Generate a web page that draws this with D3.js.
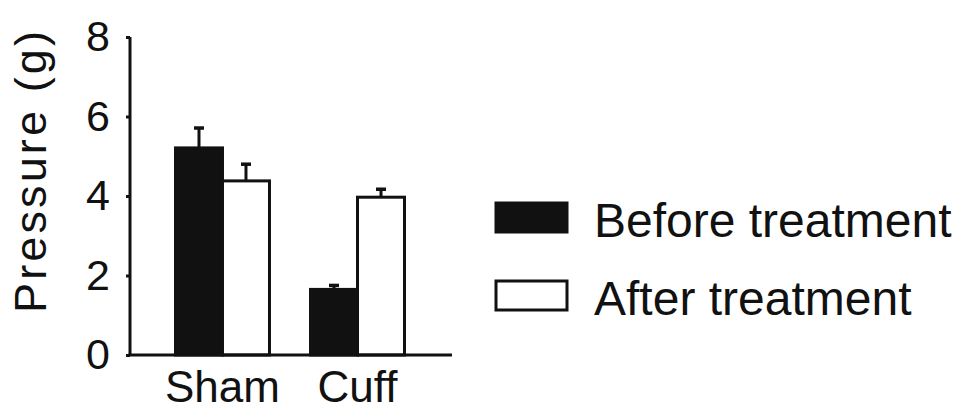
<!DOCTYPE html>
<html>
<head>
<meta charset="utf-8">
<script src="https://cdn.jsdelivr.net/npm/d3@7"></script>
<style>
  html, body { margin: 0; padding: 0; background: #fff; }
  svg { display: block; }
  text { font-family: "Liberation Sans", Arial, sans-serif; fill: #111; }
</style>
</head>
<body>
<svg id="chart" width="963" height="414"></svg>
<script>
const categories = ["Sham", "Cuff"];
const seriesNames = ["Before treatment", "After treatment"];
const beforeValues = [5.21, 1.65];
const beforeErrors = [0.5, 0.1];
const afterValues = [4.38, 3.97];
const afterErrors = [0.42, 0.2];
const yTicks = [0, 2, 4, 6, 8];
const yLabel = "Pressure (g)";

const seriesFill = ["#111", "#fff"];
const svg = d3.select("#chart");

const x0 = d3.scaleBand().domain(categories).range([130, 450])
  .paddingInner(0.304).paddingOuter(0.337);
const x1 = d3.scaleBand().domain(seriesNames).range([0, x0.bandwidth()]).padding(0);
const y = d3.scaleLinear().domain([0, 8]).range([355, 37]);

const rows = categories.map((c, i) => ({
  cat: c,
  vals: [
    { s: seriesNames[0], v: beforeValues[i], e: beforeErrors[i], fill: seriesFill[0] },
    { s: seriesNames[1], v: afterValues[i], e: afterErrors[i], fill: seriesFill[1] }
  ]
}));

const g = svg.append("g");
rows.forEach(r => {
  r.vals.forEach(d => {
    const cx = x0(r.cat) + x1(d.s) + x1.bandwidth() / 2;
    g.append("line").attr("x1", cx).attr("x2", cx)
      .attr("y1", y(d.v)).attr("y2", y(d.v + d.e))
      .attr("stroke", "#111").attr("stroke-width", 3);
    g.append("line").attr("x1", cx - 5).attr("x2", cx + 5)
      .attr("y1", y(d.v + d.e)).attr("y2", y(d.v + d.e))
      .attr("stroke", "#111").attr("stroke-width", 3.5);
  });
});

rows.forEach(r => {
  g.selectAll(null).data(r.vals).enter().append("rect")
    .attr("x", d => x0(r.cat) + x1(d.s))
    .attr("width", x1.bandwidth())
    .attr("y", d => y(d.v))
    .attr("height", d => y(0) - y(d.v))
    .attr("fill", d => d.fill)
    .attr("stroke", "#111").attr("stroke-width", 3);
});

// y axis
const yAxis = svg.append("g").attr("transform", "translate(130,0)")
  .call(d3.axisLeft(y).tickValues(yTicks).tickSize(4).tickPadding(16).tickFormat(d3.format("d")));
yAxis.select(".domain").attr("stroke", "#111").attr("stroke-width", 3).attr("d", `M0,${y(8)}V${y(0)}`);
yAxis.selectAll(".tick line").attr("stroke", "#111").attr("stroke-width", 3);
yAxis.selectAll(".tick text").style("font-size", "43px").style("font-family", "Liberation Sans, Arial, sans-serif").attr("fill", "#111");

// x axis
const xAxis = svg.append("g").attr("transform", "translate(0,355)")
  .call(d3.axisBottom(x0).tickSize(0).tickPadding(16));
xAxis.select(".domain").attr("stroke", "#111").attr("stroke-width", 3).attr("d", "M128.5,0H452");
xAxis.selectAll(".tick text").style("font-size", "44px").style("font-family", "Liberation Sans, Arial, sans-serif").attr("fill", "#111").attr("dy", "0.71em");

// y label
svg.append("text")
  .attr("transform", "translate(46,172) rotate(-90)")
  .attr("text-anchor", "middle")
  .attr("textLength", 282).attr("lengthAdjust", "spacing")
  .style("font-size", "45px")
  .text(yLabel);

// legend
const legend = svg.append("g");
seriesNames.forEach((s, i) => {
  const ly = 203 + i * 78;
  legend.append("rect").attr("x", 496).attr("y", ly).attr("width", 71).attr("height", 29)
    .attr("fill", seriesFill[i]).attr("stroke", "#111").attr("stroke-width", 3);
  legend.append("text").attr("x", 594).attr("y", ly + 34)
    .style("font-size", "48px").text(s);
});
</script>
</body>
</html>
